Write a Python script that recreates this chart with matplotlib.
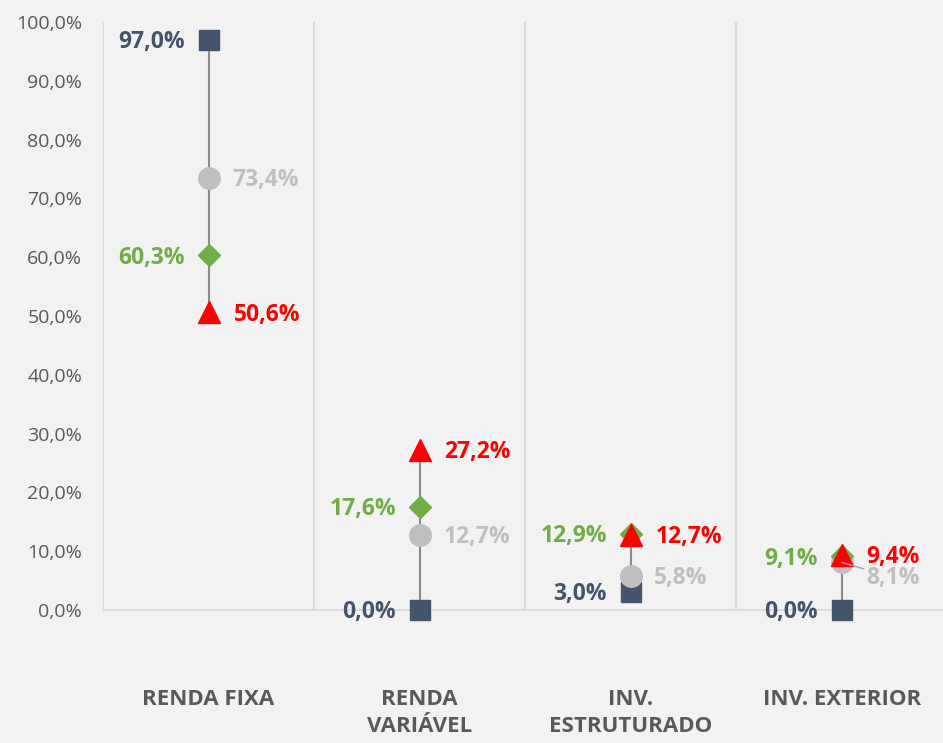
import numpy as np
import matplotlib.pyplot as plt

# dados (em %)
categorias = ['RENDA FIXA', 'RENDA\nVARIÁVEL', 'INV.\nESTRUTURADO', 'INV. EXTERIOR']
quadrado = [97.0, 0.0, 3.0, 0.0]
circulo = [73.4, 12.7, 5.8, 8.1]
losango = [60.3, 17.6, 12.9, 9.1]
triangulo = [50.6, 27.2, 12.7, 9.4]
yticks = np.arange(0, 101, 10)

plt.rcParams['font.family'] = ['Open Sans', 'DejaVu Sans']

c_quad = '#44546a'
c_circ = '#bfbfbf'
c_los = '#70ad47'
c_tri = '#ff0000'
c_txt = '#595959'
c_grid = '#d9d9d9'

fig = plt.figure(figsize=(9.43, 7.43), dpi=100, facecolor='#f2f2f2')
ax = fig.add_axes([103/943, 133/743, 840/943, 588/743])
ax.set_facecolor('#f2f2f2')

x = np.arange(len(categorias))

# linhas verticais entre min e max
for i in x:
    vals = [quadrado[i], circulo[i], losango[i], triangulo[i]]
    ax.plot([i, i], [min(vals), max(vals)], color='#8c8c8c', lw=1.5, zorder=2)

ax.plot(x, quadrado, 's', color=c_quad, ms=14, ls='none', zorder=3, clip_on=False)
ax.plot(x, circulo, 'o', color=c_circ, ms=15.5, ls='none', zorder=4, clip_on=False)
ax.plot(x, losango, 'D', color=c_los, ms=11.5, ls='none', zorder=5, clip_on=False)
ax.plot(x, triangulo, '^', color=c_tri, ms=16, ls='none', zorder=6, clip_on=False)

def fmt(v):
    return f'{v:.1f}%'.replace('.', ',')

fs = 16.5
dy = -1.5
for i in x:
    ax.annotate(fmt(quadrado[i]), (i, quadrado[i]), xytext=(-17, dy), textcoords='offset points',
                ha='right', va='center', color=c_quad, fontsize=fs, fontweight='bold')
    ax.annotate(fmt(losango[i]), (i, losango[i]), xytext=(-17, dy), textcoords='offset points',
                ha='right', va='center', color=c_los, fontsize=fs, fontweight='bold')
    ax.annotate(fmt(triangulo[i]), (i, triangulo[i]), xytext=(18, dy), textcoords='offset points',
                ha='left', va='center', color=c_tri, fontsize=fs, fontweight='bold', zorder=8)
    if i == 3:
        ax.annotate(fmt(circulo[i]), (i, circulo[i]), xytext=(18, -11), textcoords='offset points',
                    ha='left', va='center', color=c_circ, fontsize=fs, fontweight='bold', zorder=7,
                    arrowprops=dict(arrowstyle='-', color='#a6a6a6', lw=1, shrinkA=0, shrinkB=0))
    else:
        ax.annotate(fmt(circulo[i]), (i, circulo[i]), xytext=(17, dy), textcoords='offset points',
                    ha='left', va='center', color=c_circ, fontsize=fs, fontweight='bold')

ax.set_xlim(-0.5, 3.48)
ax.set_ylim(0, 100)
ax.set_yticks(yticks)
ax.set_yticklabels([fmt(v) for v in yticks])
ax.tick_params(axis='y', length=0, pad=15, labelsize=14, labelcolor=c_txt)
ax.set_xticks([])

for xv in [-0.5, 0.5, 1.5, 2.5]:
    ax.axvline(xv, color=c_grid, lw=1.3, zorder=1)
for s in ['top', 'right', 'left']:
    ax.spines[s].set_visible(False)
ax.spines['bottom'].set_color(c_grid)
ax.spines['bottom'].set_linewidth(1.3)

for i, cat in enumerate(categorias):
    ax.text(i, -13.4, cat, ha='center', va='top', fontsize=16, fontweight='bold',
            color=c_txt, linespacing=1.38, transform=ax.transData, clip_on=False)

fig.savefig('out.png', dpi=100, facecolor=fig.get_facecolor())
